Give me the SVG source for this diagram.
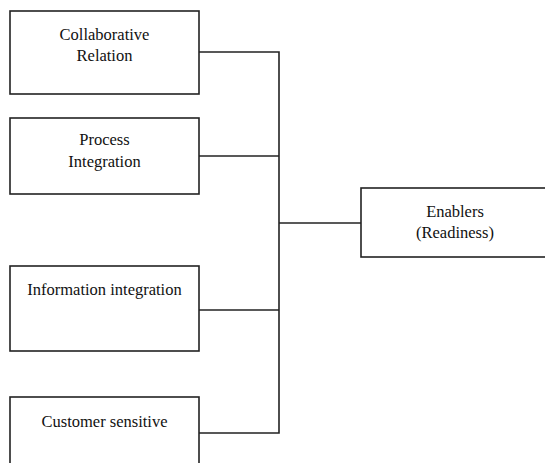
<svg xmlns="http://www.w3.org/2000/svg" width="545" height="463" viewBox="0 0 545 463">
<style>
.box{fill:#fff;stroke:#222;stroke-width:1.6}
.lbl{font-family:"Liberation Serif","Times New Roman",serif;font-size:16.5px;fill:#111;text-anchor:middle}
.con{fill:none;stroke:#222;stroke-width:1.6}
</style>
<rect width="545" height="463" fill="#fff"/>
<g id="connectors">
<path class="con" d="M199 52H279V433H199"/>
<path class="con" d="M199 156H279"/>
<path class="con" d="M199 310H279"/>
<path class="con" d="M279 223H361"/>
</g>
<g id="collaborative">
<rect class="box" x="10" y="11" width="189" height="83"/>
<text class="lbl" x="104.5" y="40">Collaborative</text>
<text class="lbl" x="104.5" y="61">Relation</text>
</g>
<g id="process">
<rect class="box" x="10" y="118" width="189" height="76"/>
<text class="lbl" x="104.5" y="145">Process</text>
<text class="lbl" x="104.5" y="167">Integration</text>
</g>
<g id="information">
<rect class="box" x="10" y="266" width="189" height="85"/>
<text class="lbl" x="104.5" y="295">Information integration</text>
</g>
<g id="customer">
<rect class="box" x="10" y="397" width="189" height="75"/>
<text class="lbl" x="104.5" y="427">Customer sensitive</text>
</g>
<g id="enablers">
<rect class="box" x="361" y="188" width="195" height="69"/>
<text class="lbl" x="455" y="217">Enablers</text>
<text class="lbl" x="455" y="238">(Readiness)</text>
</g>
</svg>
